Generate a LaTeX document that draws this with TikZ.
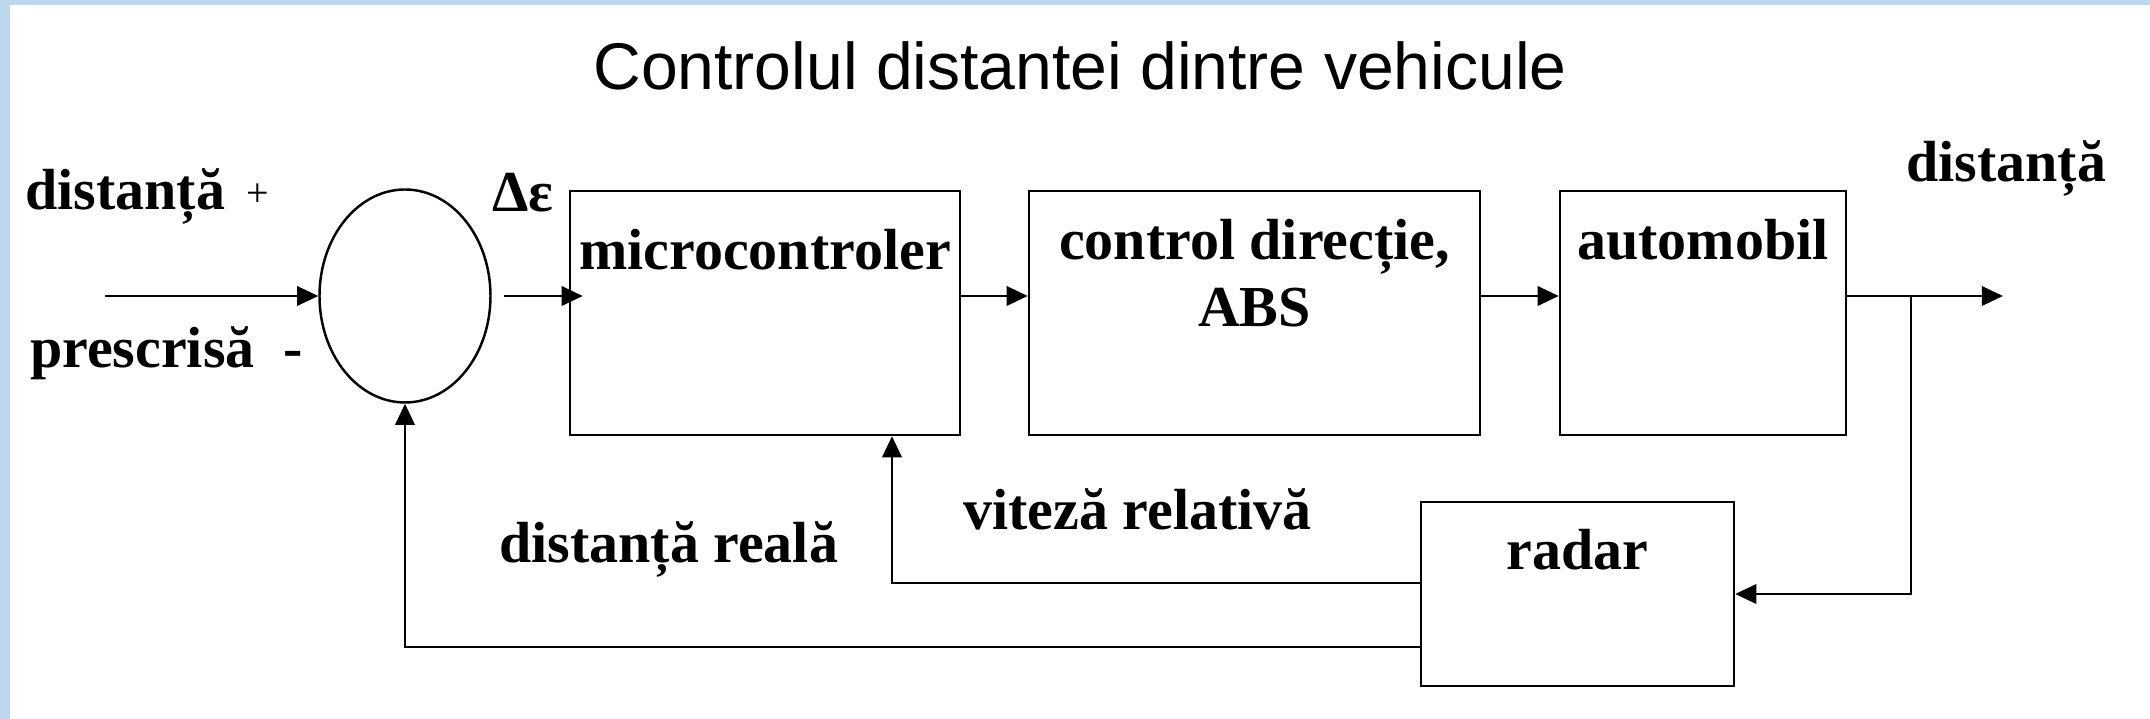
\documentclass[tikz,border=0pt]{standalone}
\usepackage{fontspec}
\setmainfont{Liberation Serif}
\newfontfamily\titlefont{Liberation Sans}
\usetikzlibrary{arrows.meta,shapes.geometric}
\definecolor{slideblue}{RGB}{189,215,238}
\begin{document}
\begin{tikzpicture}[x=0.1mm,y=-0.1mm,line width=0.7pt,
    every node/.style={inner sep=0pt,font=\bfseries\fontsize{16.5}{19}\selectfont},
    blok/.style={draw,rectangle},
    sumator/.style={draw,ellipse,minimum width=17.1mm,minimum height=21.3mm},
    sageata/.style={-{Triangle[length=6pt,width=5.5pt]}}]
      \useasboundingbox (0,0) rectangle (2150,719);
      \fill[white] (0,0) rectangle (2150,719);
      \fill[slideblue] (0,0) rectangle (10,719);
      \fill[slideblue] (0,0) rectangle (2150,5);
      \draw
        (1080,90) node[anchor=base,font=\titlefont\fontsize{18.8}{22}\selectfont] (titlu){Controlul distantei dintre vehicule}
        (405,296) node[sumator] (sum){}
        (765,313) node[blok,minimum width=39mm,text height=7.9mm,text depth=16.5mm] (micro){microcontroler}
        (1254.5,313) node[blok,minimum width=45.1mm,text height=6.9mm,text depth=17.5mm] (ctrl){\begin{tabular}[t]{@{}c@{}}control direcție,\\ABS\end{tabular}}
        (1703,313) node[blok,minimum width=28.6mm,text height=6.9mm,text depth=17.5mm] (auto){automobil}
        (1577.5,594) node[blok,minimum width=31.3mm,text height=6.8mm,text depth=11.6mm] (radar){radar}
        (24,210) node[anchor=base west] (intrare){distanță}
        (245,207) node[anchor=base west,font=\fontsize{11.4}{13}\selectfont] (plus){+}
        (29,368) node[anchor=base west] (prescris){prescrisă~~-}
        (491,212) node[anchor=base west] (eroare){Δε}
        (1905,182) node[anchor=base west] (iesire){distanță}
        (498,563) node[anchor=base west] (reala){distanță reală}
        (962,530) node[anchor=base west] (relativa){viteză relativă};
      \coordinate (in) at (105,296);
      \coordinate (out) at (2003,296);
      \coordinate (ram) at (1911,296);
      \coordinate (vit) at (892,583);
      \coordinate (dist) at (405,647);
      \begin{scope}[sageata]
        \draw (in) to (sum);
        \draw[shorten <=1.2mm,shorten >=-1.4mm] (sum) to (micro.west |- sum);
        \draw (micro.east |- sum) to (ctrl.west |- sum);
        \draw (ctrl.east |- sum) to (auto.west |- sum);
        \draw (auto.east |- sum) to (out);
        \draw (ram) |- (radar.east);
        \draw (radar.west |- vit) -- (vit) -- (micro.south -| vit);
        \draw (radar.west |- dist) -- (dist) -- (sum.south);
      \end{scope}
    \end{tikzpicture}
\end{document}
